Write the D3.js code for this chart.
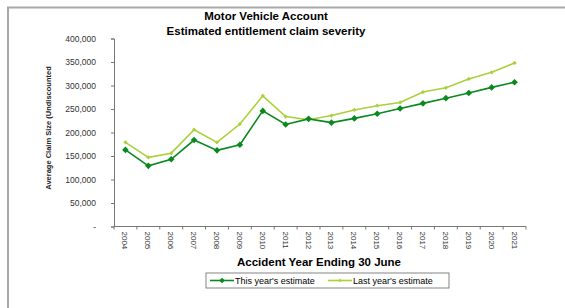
<!DOCTYPE html>
<html>
<head>
<meta charset="utf-8">
<script src="https://cdn.jsdelivr.net/npm/d3@7"></script>
<style>
  body { margin: 0; background: #fff; }
  svg { font-family: Arial, "Liberation Sans", sans-serif; }
</style>
</head>
<body>
<svg id="chart" width="565" height="308"></svg>
<script>
// data
const years = ["2004","2005","2006","2007","2008","2009","2010","2011","2012","2013",
  "2014","2015","2016","2017","2018","2019","2020","2021"];
const thisYear = [163000,129000,143000,184000,162000,174000,246000,217000,229000,221000,
  230000,240000,251000,262000,273000,284000,296000,307000];
const lastYear = [179000,147000,156000,206000,179000,218000,278000,234000,227000,236000,
  248000,257000,264000,286000,295000,314000,328000,348000];
const yTicks = [0,50000,100000,150000,200000,250000,300000,350000,400000];

const svg = d3.select("svg#chart");
const plotLeft = 114, plotRight = 526, plotTop = 38.5, plotBottom = 226.5;

// outer frame (left + top edges visible)
svg.append("path")
  .attr("d", "M8,308 L8,7.5 L565,7.5")
  .attr("fill", "none")
  .attr("stroke", "#a8a8a8")
  .attr("stroke-width", 2);

const x = d3.scaleBand().domain(years).range([plotLeft, plotRight]);
const y = d3.scaleLinear().domain([0, 400000]).range([plotBottom, plotTop]);

// titles
const title = svg.append("g").attr("class", "title")
  .attr("font-weight", "bold").attr("font-size", 11.5).attr("text-anchor", "middle");
title.append("text").attr("x", 266).attr("y", 20).text("Motor Vehicle Account");
title.append("text").attr("x", 266).attr("y", 35).text("Estimated entitlement claim severity");

// y axis
const yAxis = d3.axisLeft(y).tickValues(yTicks).tickSize(3).tickSizeOuter(3)
  .tickFormat(d => d === 0 ? "-" : d3.format(",")(d));
const gy = svg.append("g").attr("transform", `translate(${plotLeft},0)`).call(yAxis);
gy.selectAll("text").attr("font-size", 8.5).attr("fill", "#333").attr("x", -18);
gy.selectAll(".tick line").attr("stroke", "#777");
gy.select(".domain").attr("stroke", "#777");

// x axis
const xAxis = d3.axisBottom(x).tickSize(0);
const gx = svg.append("g").attr("transform", `translate(0,${plotBottom})`).call(xAxis);
gx.select(".domain").attr("stroke", "#777").attr("d", `M${plotLeft},0H${plotRight}`);
gx.selectAll(".tick text")
  .attr("font-size", 8).attr("fill", "#333")
  .attr("text-anchor", "start")
  .attr("transform", "translate(-3,5) rotate(90)")
  .attr("x", 0).attr("y", 0).attr("dy", 0);
// boundary tick marks
gx.selectAll("line.bound")
  .data(years.concat(["end"]))
  .join("line")
  .attr("class", "bound")
  .attr("x1", (d, i) => plotLeft + i * x.bandwidth())
  .attr("x2", (d, i) => plotLeft + i * x.bandwidth())
  .attr("y1", 0).attr("y2", 3)
  .attr("stroke", "#777");

// axis titles
svg.append("text")
  .attr("transform", "translate(51,128) rotate(-90)")
  .attr("text-anchor", "middle").attr("font-size", 7.5).attr("font-weight", "bold").attr("fill", "#222")
  .text("Average Claim Size (Undiscounted");
svg.append("text")
  .attr("x", 319).attr("y", 266)
  .attr("text-anchor", "middle").attr("font-size", 11.5).attr("font-weight", "bold")
  .text("Accident Year Ending 30 June");

// lines
const cx = d => x(d) + x.bandwidth() / 2;
const line = vals => d3.line().x((d, i) => cx(years[i])).y(d => y(d))(vals);
const lightCol = "#a9d13a", darkCol = "#0a8a1e";
const marker = size => d3.symbol(d3.symbolSquare, size)();

svg.append("path").attr("d", line(lastYear)).attr("fill", "none")
  .attr("stroke", lightCol).attr("stroke-width", 1.6);
svg.append("g").selectAll("path").data(lastYear).join("path")
  .attr("d", marker(9))
  .attr("transform", (d, i) => `translate(${cx(years[i])},${y(d)}) rotate(45)`)
  .attr("fill", lightCol);

svg.append("path").attr("d", line(thisYear)).attr("fill", "none")
  .attr("stroke", darkCol).attr("stroke-width", 1.6);
svg.append("g").selectAll("path").data(thisYear).join("path")
  .attr("d", marker(22))
  .attr("transform", (d, i) => `translate(${cx(years[i])},${y(d)}) rotate(45)`)
  .attr("fill", darkCol);

// legend
const leg = svg.append("g").attr("transform", "translate(206,273)");
leg.append("rect").attr("width", 243).attr("height", 15)
  .attr("fill", "#fff").attr("stroke", "#666").attr("stroke-width", 0.8);
const items = [
  { label: "This year's estimate", col: darkCol, size: 16, x: 4 },
  { label: "Last year's estimate", col: lightCol, size: 7, x: 122 }
];
items.forEach(it => {
  leg.append("line").attr("x1", it.x).attr("x2", it.x + 24).attr("y1", 7.5).attr("y2", 7.5)
    .attr("stroke", it.col).attr("stroke-width", 1.6);
  leg.append("path").attr("d", marker(it.size))
    .attr("transform", `translate(${it.x + 12},7.5) rotate(45)`).attr("fill", it.col);
  leg.append("text").attr("x", it.x + 25).attr("y", 11).attr("font-size", 9).text(it.label);
});
</script>
</body>
</html>
